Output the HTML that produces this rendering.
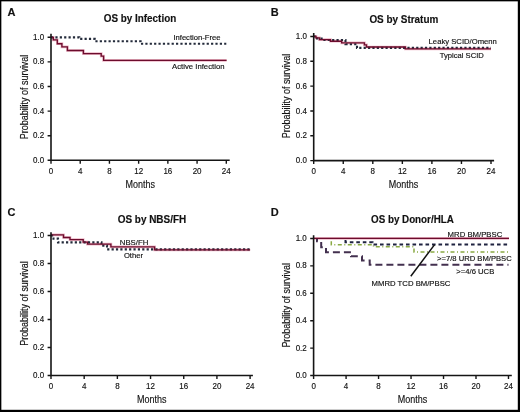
<!DOCTYPE html>
<html><head><meta charset="utf-8"><style>
html,body{margin:0;padding:0;background:#fff;width:520px;height:412px;overflow:hidden}
svg{display:block;will-change:transform}
text{font-family:"Liberation Sans", sans-serif;stroke:#111;stroke-width:0.15px}
</style></head><body>
<svg width="520" height="412" viewBox="0 0 520 412">
<rect width="520" height="412" fill="#fff"/>
<path d="M47.60 160.30H51.00M47.60 135.70H51.00M47.60 111.10H51.00M47.60 86.50H51.00M47.60 61.90H51.00M47.60 37.30H51.00M51.00 160.30V163.70M80.22 160.30V163.70M109.43 160.30V163.70M138.65 160.30V163.70M167.86 160.30V163.70M197.08 160.30V163.70M226.30 160.30V163.70" fill="none" stroke="#151515" stroke-width="1.4"/>
<text x="44.20" y="162.85" font-size="8.5" text-anchor="end" textLength="11.1" lengthAdjust="spacingAndGlyphs" fill="#111">0.0</text>
<text x="44.20" y="138.25" font-size="8.5" text-anchor="end" textLength="11.1" lengthAdjust="spacingAndGlyphs" fill="#111">0.2</text>
<text x="44.20" y="113.65" font-size="8.5" text-anchor="end" textLength="11.1" lengthAdjust="spacingAndGlyphs" fill="#111">0.4</text>
<text x="44.20" y="89.05" font-size="8.5" text-anchor="end" textLength="11.1" lengthAdjust="spacingAndGlyphs" fill="#111">0.6</text>
<text x="44.20" y="64.45" font-size="8.5" text-anchor="end" textLength="11.1" lengthAdjust="spacingAndGlyphs" fill="#111">0.8</text>
<text x="44.20" y="39.85" font-size="8.5" text-anchor="end" textLength="11.1" lengthAdjust="spacingAndGlyphs" fill="#111">1.0</text>
<text x="51.00" y="173.60" font-size="8.5" text-anchor="middle" textLength="4.45" lengthAdjust="spacingAndGlyphs" fill="#111">0</text>
<text x="80.22" y="173.60" font-size="8.5" text-anchor="middle" textLength="4.45" lengthAdjust="spacingAndGlyphs" fill="#111">4</text>
<text x="109.43" y="173.60" font-size="8.5" text-anchor="middle" textLength="4.45" lengthAdjust="spacingAndGlyphs" fill="#111">8</text>
<text x="138.65" y="173.60" font-size="8.5" text-anchor="middle" textLength="8.9" lengthAdjust="spacingAndGlyphs" fill="#111">12</text>
<text x="167.86" y="173.60" font-size="8.5" text-anchor="middle" textLength="8.9" lengthAdjust="spacingAndGlyphs" fill="#111">16</text>
<text x="197.08" y="173.60" font-size="8.5" text-anchor="middle" textLength="8.9" lengthAdjust="spacingAndGlyphs" fill="#111">20</text>
<text x="226.30" y="173.60" font-size="8.5" text-anchor="middle" textLength="8.9" lengthAdjust="spacingAndGlyphs" fill="#111">24</text>
<text transform="translate(27.60 96.95) rotate(-90)" x="0" y="0" font-size="10" text-anchor="middle" textLength="84.5" lengthAdjust="spacingAndGlyphs" fill="#111">Probability of survival</text>
<text x="140.25" y="187.80" font-size="11" text-anchor="middle" textLength="29.5" lengthAdjust="spacingAndGlyphs" fill="#111">Months</text>
<text x="140.00" y="22.40" font-size="10" text-anchor="middle" font-weight="bold" textLength="72.4" lengthAdjust="spacingAndGlyphs" fill="#111">OS by Infection</text>
<text x="7.60" y="15.90" font-size="11" text-anchor="start" font-weight="bold" fill="#111">A</text>
<path d="M310.30 160.60H313.70M310.30 135.78H313.70M310.30 110.96H313.70M310.30 86.14H313.70M310.30 61.32H313.70M310.30 36.50H313.70M313.70 160.60V164.00M343.25 160.60V164.00M372.80 160.60V164.00M402.35 160.60V164.00M431.90 160.60V164.00M461.45 160.60V164.00M491.00 160.60V164.00" fill="none" stroke="#151515" stroke-width="1.4"/>
<text x="306.90" y="163.15" font-size="8.5" text-anchor="end" textLength="11.1" lengthAdjust="spacingAndGlyphs" fill="#111">0.0</text>
<text x="306.90" y="138.33" font-size="8.5" text-anchor="end" textLength="11.1" lengthAdjust="spacingAndGlyphs" fill="#111">0.2</text>
<text x="306.90" y="113.51" font-size="8.5" text-anchor="end" textLength="11.1" lengthAdjust="spacingAndGlyphs" fill="#111">0.4</text>
<text x="306.90" y="88.69" font-size="8.5" text-anchor="end" textLength="11.1" lengthAdjust="spacingAndGlyphs" fill="#111">0.6</text>
<text x="306.90" y="63.87" font-size="8.5" text-anchor="end" textLength="11.1" lengthAdjust="spacingAndGlyphs" fill="#111">0.8</text>
<text x="306.90" y="39.05" font-size="8.5" text-anchor="end" textLength="11.1" lengthAdjust="spacingAndGlyphs" fill="#111">1.0</text>
<text x="313.70" y="173.90" font-size="8.5" text-anchor="middle" textLength="4.45" lengthAdjust="spacingAndGlyphs" fill="#111">0</text>
<text x="343.25" y="173.90" font-size="8.5" text-anchor="middle" textLength="4.45" lengthAdjust="spacingAndGlyphs" fill="#111">4</text>
<text x="372.80" y="173.90" font-size="8.5" text-anchor="middle" textLength="4.45" lengthAdjust="spacingAndGlyphs" fill="#111">8</text>
<text x="402.35" y="173.90" font-size="8.5" text-anchor="middle" textLength="8.9" lengthAdjust="spacingAndGlyphs" fill="#111">12</text>
<text x="431.90" y="173.90" font-size="8.5" text-anchor="middle" textLength="8.9" lengthAdjust="spacingAndGlyphs" fill="#111">16</text>
<text x="461.45" y="173.90" font-size="8.5" text-anchor="middle" textLength="8.9" lengthAdjust="spacingAndGlyphs" fill="#111">20</text>
<text x="491.00" y="173.90" font-size="8.5" text-anchor="middle" textLength="8.9" lengthAdjust="spacingAndGlyphs" fill="#111">24</text>
<text transform="translate(290.40 96.05) rotate(-90)" x="0" y="0" font-size="10" text-anchor="middle" textLength="84.5" lengthAdjust="spacingAndGlyphs" fill="#111">Probability of survival</text>
<text x="403.50" y="187.80" font-size="11" text-anchor="middle" textLength="29.5" lengthAdjust="spacingAndGlyphs" fill="#111">Months</text>
<text x="403.85" y="22.70" font-size="10" text-anchor="middle" font-weight="bold" textLength="68.9" lengthAdjust="spacingAndGlyphs" fill="#111">OS by Stratum</text>
<text x="270.80" y="15.80" font-size="11" text-anchor="start" font-weight="bold" fill="#111">B</text>
<path d="M47.60 375.50H51.00M47.60 347.50H51.00M47.60 319.50H51.00M47.60 291.50H51.00M47.60 263.50H51.00M47.60 235.50H51.00M51.00 375.50V378.90M84.18 375.50V378.90M117.37 375.50V378.90M150.55 375.50V378.90M183.74 375.50V378.90M216.92 375.50V378.90M250.10 375.50V378.90" fill="none" stroke="#151515" stroke-width="1.4"/>
<text x="44.20" y="378.05" font-size="8.5" text-anchor="end" textLength="11.1" lengthAdjust="spacingAndGlyphs" fill="#111">0.0</text>
<text x="44.20" y="350.05" font-size="8.5" text-anchor="end" textLength="11.1" lengthAdjust="spacingAndGlyphs" fill="#111">0.2</text>
<text x="44.20" y="322.05" font-size="8.5" text-anchor="end" textLength="11.1" lengthAdjust="spacingAndGlyphs" fill="#111">0.4</text>
<text x="44.20" y="294.05" font-size="8.5" text-anchor="end" textLength="11.1" lengthAdjust="spacingAndGlyphs" fill="#111">0.6</text>
<text x="44.20" y="266.05" font-size="8.5" text-anchor="end" textLength="11.1" lengthAdjust="spacingAndGlyphs" fill="#111">0.8</text>
<text x="44.20" y="238.05" font-size="8.5" text-anchor="end" textLength="11.1" lengthAdjust="spacingAndGlyphs" fill="#111">1.0</text>
<text x="51.00" y="388.80" font-size="8.5" text-anchor="middle" textLength="4.45" lengthAdjust="spacingAndGlyphs" fill="#111">0</text>
<text x="84.18" y="388.80" font-size="8.5" text-anchor="middle" textLength="4.45" lengthAdjust="spacingAndGlyphs" fill="#111">4</text>
<text x="117.37" y="388.80" font-size="8.5" text-anchor="middle" textLength="4.45" lengthAdjust="spacingAndGlyphs" fill="#111">8</text>
<text x="150.55" y="388.80" font-size="8.5" text-anchor="middle" textLength="8.9" lengthAdjust="spacingAndGlyphs" fill="#111">12</text>
<text x="183.74" y="388.80" font-size="8.5" text-anchor="middle" textLength="8.9" lengthAdjust="spacingAndGlyphs" fill="#111">16</text>
<text x="216.92" y="388.80" font-size="8.5" text-anchor="middle" textLength="8.9" lengthAdjust="spacingAndGlyphs" fill="#111">20</text>
<text x="250.10" y="388.80" font-size="8.5" text-anchor="middle" textLength="8.9" lengthAdjust="spacingAndGlyphs" fill="#111">24</text>
<text transform="translate(27.50 303.55) rotate(-90)" x="0" y="0" font-size="10" text-anchor="middle" textLength="84.5" lengthAdjust="spacingAndGlyphs" fill="#111">Probability of survival</text>
<text x="151.80" y="402.70" font-size="11" text-anchor="middle" textLength="29.5" lengthAdjust="spacingAndGlyphs" fill="#111">Months</text>
<text x="151.95" y="223.20" font-size="10" text-anchor="middle" font-weight="bold" textLength="68.5" lengthAdjust="spacingAndGlyphs" fill="#111">OS by NBS/FH</text>
<text x="7.40" y="216.00" font-size="11" text-anchor="start" font-weight="bold" fill="#111">C</text>
<path d="M310.20 375.50H313.60M310.20 348.10H313.60M310.20 320.70H313.60M310.20 293.30H313.60M310.20 265.90H313.60M310.20 238.50H313.60M313.60 375.50V378.90M346.08 375.50V378.90M378.56 375.50V378.90M411.04 375.50V378.90M443.52 375.50V378.90M476.00 375.50V378.90M508.48 375.50V378.90" fill="none" stroke="#151515" stroke-width="1.4"/>
<text x="306.80" y="378.05" font-size="8.5" text-anchor="end" textLength="11.1" lengthAdjust="spacingAndGlyphs" fill="#111">0.0</text>
<text x="306.80" y="350.65" font-size="8.5" text-anchor="end" textLength="11.1" lengthAdjust="spacingAndGlyphs" fill="#111">0.2</text>
<text x="306.80" y="323.25" font-size="8.5" text-anchor="end" textLength="11.1" lengthAdjust="spacingAndGlyphs" fill="#111">0.4</text>
<text x="306.80" y="295.85" font-size="8.5" text-anchor="end" textLength="11.1" lengthAdjust="spacingAndGlyphs" fill="#111">0.6</text>
<text x="306.80" y="268.45" font-size="8.5" text-anchor="end" textLength="11.1" lengthAdjust="spacingAndGlyphs" fill="#111">0.8</text>
<text x="306.80" y="241.05" font-size="8.5" text-anchor="end" textLength="11.1" lengthAdjust="spacingAndGlyphs" fill="#111">1.0</text>
<text x="313.60" y="388.80" font-size="8.5" text-anchor="middle" textLength="4.45" lengthAdjust="spacingAndGlyphs" fill="#111">0</text>
<text x="346.08" y="388.80" font-size="8.5" text-anchor="middle" textLength="4.45" lengthAdjust="spacingAndGlyphs" fill="#111">4</text>
<text x="378.56" y="388.80" font-size="8.5" text-anchor="middle" textLength="4.45" lengthAdjust="spacingAndGlyphs" fill="#111">8</text>
<text x="411.04" y="388.80" font-size="8.5" text-anchor="middle" textLength="8.9" lengthAdjust="spacingAndGlyphs" fill="#111">12</text>
<text x="443.52" y="388.80" font-size="8.5" text-anchor="middle" textLength="8.9" lengthAdjust="spacingAndGlyphs" fill="#111">16</text>
<text x="476.00" y="388.80" font-size="8.5" text-anchor="middle" textLength="8.9" lengthAdjust="spacingAndGlyphs" fill="#111">20</text>
<text x="508.48" y="388.80" font-size="8.5" text-anchor="middle" textLength="8.9" lengthAdjust="spacingAndGlyphs" fill="#111">24</text>
<text transform="translate(290.40 305.35) rotate(-90)" x="0" y="0" font-size="10" text-anchor="middle" textLength="84.5" lengthAdjust="spacingAndGlyphs" fill="#111">Probability of survival</text>
<text x="412.40" y="402.70" font-size="11" text-anchor="middle" textLength="29.5" lengthAdjust="spacingAndGlyphs" fill="#111">Months</text>
<text x="412.40" y="222.80" font-size="10" text-anchor="middle" font-weight="bold" textLength="82.8" lengthAdjust="spacingAndGlyphs" fill="#111">OS by Donor/HLA</text>
<text x="270.70" y="215.90" font-size="11" text-anchor="start" font-weight="bold" fill="#111">D</text>
<path d="M51.00 37.30L53.30 37.30L53.30 39.90L57.30 39.90L57.30 43.70L61.90 43.70L61.90 46.90L67.40 46.90L67.40 50.50L83.40 50.50L83.40 53.60L101.20 53.60L101.20 56.10L103.60 56.10L103.60 60.40L226.60 60.40" fill="none" stroke="#eeb8c7" stroke-width="2.7"/>
<path d="M313.70 36.40L316.00 36.40L316.00 37.80L319.50 37.80L319.50 39.60L330.50 39.60L330.50 41.20L341.70 41.20L341.70 42.80L364.40 42.80L364.40 44.80L366.50 44.80L366.50 47.00L405.40 47.00L405.40 48.80L491.00 48.80" fill="none" stroke="#eeb8c7" stroke-width="2.7"/>
<path d="M51.00 234.90L63.50 234.90L63.50 237.50L70.00 237.50L70.00 239.60L83.20 239.60L83.20 242.10L87.50 242.10L87.50 244.10L110.90 244.10L110.90 246.90L154.60 246.90L154.60 249.90L250.10 249.90" fill="none" stroke="#eeb8c7" stroke-width="2.7"/>
<path d="M313.6 238.4H509" fill="none" stroke="#eeb8c7" stroke-width="2.7"/>
<path d="M51.00 37.40L79.30 37.40L79.30 38.90L94.70 38.90L94.70 41.20L140.60 41.20L140.60 43.80L226.30 43.80" fill="none" stroke="#232a3a" stroke-width="2.1" stroke-dasharray="2.2 2.18"/>
<path d="M313.70 36.50L317.00 36.50L317.00 38.50L323.00 38.50L323.00 40.00L345.50 40.00L345.50 44.20L357.00 44.20L357.00 47.90L491.00 47.90" fill="none" stroke="#232a3a" stroke-width="2.1" stroke-dasharray="2.2 2.18"/>
<path d="M51.00 235.50L53.50 235.50L53.50 238.60L58.00 238.60L58.00 242.40L101.50 242.40L101.50 245.60L107.00 245.60L107.00 249.40L250.10 249.40" fill="none" stroke="#232a3a" stroke-width="2.1" stroke-dasharray="2.2 2.18"/>
<path d="M317.00 238.50L317.00 238.50L317.00 241.30L321.20 241.30L321.20 247.30L326.00 247.30L326.00 252.20L351.00 252.20L351.00 256.30L362.00 256.30L362.00 260.50L369.70 260.50L369.70 264.70L508.50 264.70" fill="none" stroke="#43304f" stroke-width="2" stroke-dasharray="7 4" stroke-dashoffset="3.4"/>
<path d="M331.30 238.50L331.30 238.50L331.30 244.80L373.50 244.80L373.50 246.80L414.00 246.80L414.00 252.10L508.50 252.10" fill="none" stroke="#8aaa44" stroke-width="1.5" stroke-dasharray="4 2.5 1 2.5" stroke-dashoffset="7.2"/>
<path d="M345.50 238.50L345.50 238.50L345.50 242.30L372.50 242.30L372.50 244.60L508.50 244.60" fill="none" stroke="#1f2340" stroke-width="2" stroke-dasharray="3.6 2.9" stroke-dashoffset="30.9"/>
<path d="M434.6 244.6L410.8 276.2" fill="none" stroke="#111" stroke-width="1.5"/>
<path d="M51.00 37.30L53.30 37.30L53.30 39.90L57.30 39.90L57.30 43.70L61.90 43.70L61.90 46.90L67.40 46.90L67.40 50.50L83.40 50.50L83.40 53.60L101.20 53.60L101.20 56.10L103.60 56.10L103.60 60.40L226.60 60.40" fill="none" stroke="#6c0c2d" stroke-width="1.35"/>
<path d="M313.70 36.40L316.00 36.40L316.00 37.80L319.50 37.80L319.50 39.60L330.50 39.60L330.50 41.20L341.70 41.20L341.70 42.80L364.40 42.80L364.40 44.80L366.50 44.80L366.50 47.00L405.40 47.00L405.40 48.80L491.00 48.80" fill="none" stroke="#6c0c2d" stroke-width="1.35"/>
<path d="M51.00 234.90L63.50 234.90L63.50 237.50L70.00 237.50L70.00 239.60L83.20 239.60L83.20 242.10L87.50 242.10L87.50 244.10L110.90 244.10L110.90 246.90L154.60 246.90L154.60 249.90L250.10 249.90" fill="none" stroke="#6c0c2d" stroke-width="1.35"/>
<path d="M313.6 238.4H509" fill="none" stroke="#6c0c2d" stroke-width="1.35"/>
<path d="M51.00 33.80V160.30H229.70" fill="none" stroke="#151515" stroke-width="1.6"/>
<path d="M313.70 32.90V160.60H494.10" fill="none" stroke="#151515" stroke-width="1.6"/>
<path d="M51.00 232.20V375.50H252.90" fill="none" stroke="#151515" stroke-width="1.6"/>
<path d="M313.60 235.30V375.50H511.80" fill="none" stroke="#151515" stroke-width="1.6"/>
<text x="173.40" y="39.80" font-size="7.5" text-anchor="start" textLength="47.1" lengthAdjust="spacingAndGlyphs" fill="#111">Infection-Free</text>
<text x="172.10" y="69.40" font-size="7.5" text-anchor="start" textLength="52.4" lengthAdjust="spacingAndGlyphs" fill="#111">Active Infection</text>
<text x="428.60" y="44.20" font-size="7.5" text-anchor="start" textLength="68.3" lengthAdjust="spacingAndGlyphs" fill="#111">Leaky SCID/Omenn</text>
<text x="439.70" y="57.60" font-size="7.5" text-anchor="start" textLength="44.1" lengthAdjust="spacingAndGlyphs" fill="#111">Typical SCID</text>
<text x="119.80" y="244.50" font-size="7.5" text-anchor="start" textLength="28.5" lengthAdjust="spacingAndGlyphs" fill="#111">NBS/FH</text>
<text x="123.90" y="257.50" font-size="7.5" text-anchor="start" textLength="19.1" lengthAdjust="spacingAndGlyphs" fill="#111">Other</text>
<text x="447.60" y="236.90" font-size="7.5" text-anchor="start" textLength="54.7" lengthAdjust="spacingAndGlyphs" fill="#111">MRD BM/PBSC</text>
<text x="437.10" y="260.50" font-size="7.5" text-anchor="start" textLength="74.6" lengthAdjust="spacingAndGlyphs" fill="#111">&gt;=7/8 URD BM/PBSC</text>
<text x="456.30" y="274.30" font-size="7.5" text-anchor="start" textLength="38.0" lengthAdjust="spacingAndGlyphs" fill="#111">&gt;=4/6 UCB</text>
<text x="371.60" y="285.90" font-size="7.5" text-anchor="start" textLength="78.8" lengthAdjust="spacingAndGlyphs" fill="#111">MMRD TCD BM/PBSC</text>
<rect x="0" y="0" width="520" height="1" fill="#000"/>
<rect x="0" y="1" width="520" height="1" fill="#000" opacity="0.35"/>
<rect x="0" y="0" width="1" height="412" fill="#000"/>
<rect x="1" y="0" width="1" height="412" fill="#000" opacity="0.35"/>
<rect x="518" y="0" width="2" height="412" fill="#000"/>
<rect x="517" y="0" width="1" height="412" fill="#000" opacity="0.2"/>
<rect x="0" y="410" width="520" height="2" fill="#000"/>
<rect x="0" y="409" width="520" height="1" fill="#000" opacity="0.2"/>
</svg>
</body></html>
